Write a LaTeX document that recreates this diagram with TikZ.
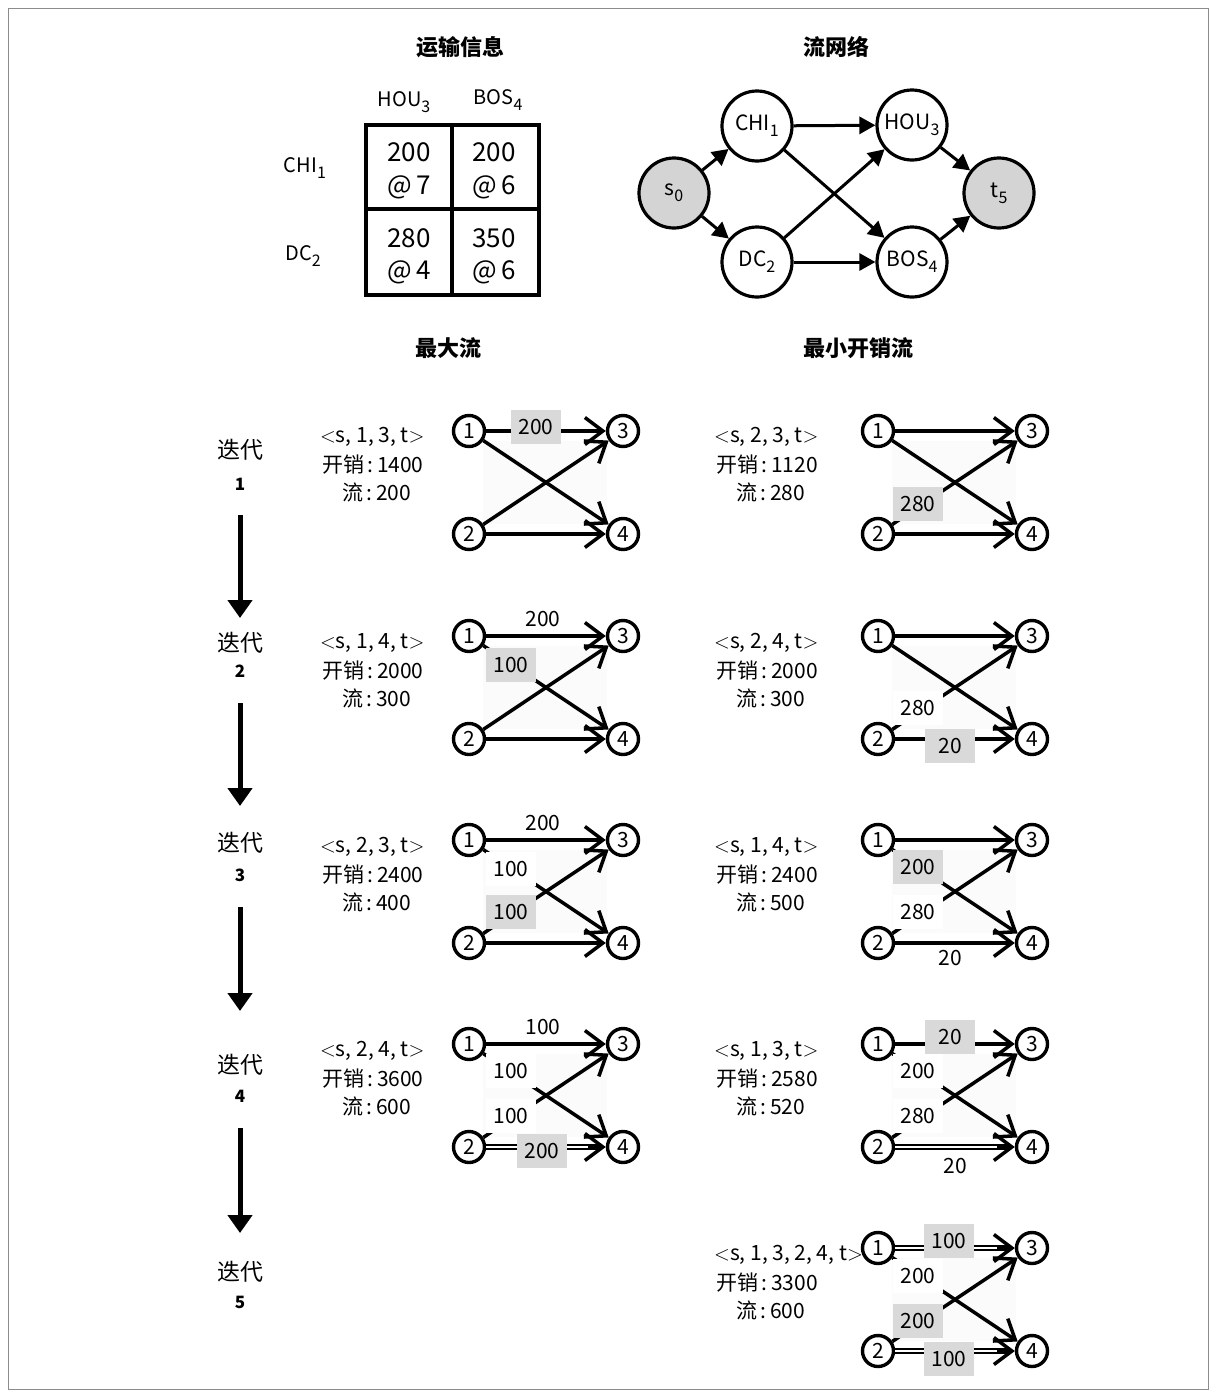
\documentclass[tikz,border=0pt]{standalone}
\usepackage{fontspec}
\setmainfont{Noto Sans CJK SC}
\usetikzlibrary{arrows.meta}
\newcommand\myfs[1]{\fontsize{#1}{#1}\selectfont}
\newcommand\lowsub[1]{\raisebox{-6pt}{\myfs{16}#1}}
\begin{document}
\begin{tikzpicture}[x=1pt,y=-1pt,
  every node/.style={inner sep=0pt, font=\myfs{20}},
  title/.style={font=\myfs{22}\bfseries},
  cell/.style={font=\myfs{26}},
  bign/.style={circle, draw, line width=3.2pt, minimum size=70pt, font=\myfs{21}},
  bigg/.style={bign, fill=black!17},
  fa/.style={line width=3pt, -{Triangle[length=16pt,width=17pt]}},
  iterarrow/.style={line width=5pt, -{Triangle[length=18pt,width=24pt]}},
  pn/.style={circle, draw, line width=3.4pt, minimum size=31pt, fill=white, font=\myfs{21}},
  pe/.style={line width=3.5pt, -{Straight Barb[length=18pt,width=27pt,line width=3.5pt]}},
  pthick/.style={pe, line width=4.5pt},
  lw/.style={fill=white, minimum width=50pt, minimum height=34pt, font=\myfs{21}},
  lg/.style={fill=black!15, minimum width=50pt, minimum height=34pt, font=\myfs{21}},
  lt/.style={font=\myfs{21}},
  ptx/.style={anchor=west, font=\myfs{21}},
  dblin/.style={white, line width=1.8pt, shorten >=18pt}
]
\useasboundingbox (0,0) rectangle (1216,1395);
\draw[black!45, line width=1pt] (8,8) rectangle (1208,1389);

% titles
\node[title] (ttab) at (460,47) {运输信息};
\node[title] (tnet) at (836,47) {流网络};
\node[title] (tmax) at (448,348) {最大流};
\node[title] (tmin) at (858,348) {最小开销流};

% table
\draw[line width=3.4pt] (366,125) rectangle (539,295);
\draw[line width=3.4pt] (452,125) -- (452,295);
\draw[line width=3.4pt] (366,209) -- (539,209);
\node (hhou) at (404,102) {HOU\lowsub{3}};
\node (hbos) at (498,100) {BOS\lowsub{4}};
\node (hchi) at (305,168) {CHI\lowsub{1}};
\node (hdc) at (303,256) {DC\lowsub{2}};
\node[cell] (c11a) at (409,152) {200};
\node[cell] (c11b) at (409,187) {@\,7};
\node[cell] (c12a) at (494,152) {200};
\node[cell] (c12b) at (494,187) {@\,6};
\node[cell] (c21a) at (409,238) {280};
\node[cell] (c21b) at (409,272) {@\,4};
\node[cell] (c22a) at (494,238) {350};
\node[cell] (c22b) at (494,272) {@\,6};

% flow network
\node[bigg] (s0) at (674,193) {s\lowsub{0}};
\node[bign] (chi) at (757,126) {CHI\lowsub{1}};
\node[bign] (dc) at (757,262) {DC\lowsub{2}};
\node[bign] (hou) at (912,125) {HOU\lowsub{3}};
\node[bign] (bos) at (912,262) {BOS\lowsub{4}};
\node[bigg] (t5) at (999,193) {t\lowsub{5}};
\draw[fa] (s0) -- (chi);
\draw[fa] (s0) -- (dc);
\draw[fa] (chi) -- (hou);
\draw[fa] (chi) -- (bos);
\draw[fa] (dc) -- (hou);
\draw[fa] (dc) -- (bos);
\draw[fa] (hou) -- (t5);
\draw[fa] (bos) -- (t5);

% iteration column
\node (it1) at (240,450) {\myfs{23}迭代};
\node (in1) at (240,484) {\bfseries\myfs{17}1};
\node (it2) at (240,643) {\myfs{23}迭代};
\node (in2) at (240,671) {\bfseries\myfs{17}2};
\node (it3) at (240,843) {\myfs{23}迭代};
\node (in3) at (240,875) {\bfseries\myfs{17}3};
\node (it4) at (240,1065) {\myfs{23}迭代};
\node (in4) at (240,1096) {\bfseries\myfs{17}4};
\node (it5) at (240,1272) {\myfs{23}迭代};
\node (in5) at (240,1302) {\bfseries\myfs{17}5};
\coordinate (a1s) at (240,515); \coordinate (a1e) at (240,618);
\coordinate (a2s) at (240,703); \coordinate (a2e) at (240,806);
\coordinate (a3s) at (240,907); \coordinate (a3e) at (240,1011);
\coordinate (a4s) at (240,1128); \coordinate (a4e) at (240,1233);
\draw[iterarrow] (a1s) -- (a1e);
\draw[iterarrow] (a2s) -- (a2e);
\draw[iterarrow] (a3s) -- (a3e);
\draw[iterarrow] (a4s) -- (a4e);

% panel macros
\newcommand\mkpanel[3]{%
  \fill[black!1.5] (#2+14,#3+10) rectangle (#2+138,#3+93);
  \node[pn] (#1n1) at (#2,#3) {1};
  \node[pn] (#1n2) at (#2,#3+103) {2};
  \node[pn] (#1n3) at (#2+154,#3) {3};
  \node[pn] (#1n4) at (#2+154,#3+103) {4};
}
\newcommand\crossedges[1]{%
  \draw[pe] (#1n1) -- (#1n4);
  \draw[pe] (#1n2) -- (#1n3);
}
\newcommand\ptext[6]{%
  \node[ptx] (#1ta) at (#2,#3) {$<$s, #4, t$>$};
  \node[ptx] (#1tb) at (#2+2,#3+28) {开销\,:\,#5};
  \node[ptx] (#1tc) at (#2+22,#3+55) {流\,:\,#6};
}

% ---------- iteration 1
\mkpanel{La}{469}{431}
\draw[pe] (Lan1) -- (Lan3);
\crossedges{La}
\draw[pe] (Lan2) -- (Lan4);
\node[lg] (La1) at (536,427) {200};
\ptext{La}{320}{437}{1, 3}{1400}{200}

\mkpanel{Ra}{878}{431}
\draw[pe] (Ran1) -- (Ran3);
\crossedges{Ra}
\draw[pe] (Ran2) -- (Ran4);
\node[lg] (Ra1) at (918,504) {280};
\ptext{Ra}{714}{437}{2, 3}{1120}{280}

% ---------- iteration 2
\mkpanel{Lb}{469}{636}
\draw[pe] (Lbn1) -- (Lbn3);
\crossedges{Lb}
\draw[pe] (Lbn2) -- (Lbn4);
\node[lt] (Lb1) at (543,619) {200};
\node[lg] (Lb2) at (511,665) {100};
\ptext{Lb}{320}{643}{1, 4}{2000}{300}

\mkpanel{Rb}{878}{636}
\draw[pe] (Rbn1) -- (Rbn3);
\crossedges{Rb}
\draw[pe] (Rbn2) -- (Rbn4);
\node[lw] (Rb1) at (918,708) {280};
\node[lg] (Rb2) at (950,746) {20};
\ptext{Rb}{714}{643}{2, 4}{2000}{300}

% ---------- iteration 3
\mkpanel{Lc}{469}{840}
\draw[pthick] (Lcn1) -- (Lcn3);
\crossedges{Lc}
\draw[pe] (Lcn2) -- (Lcn4);
\node[lt] (Lc1) at (543,823) {200};
\node[lw] (Lc2) at (511,869) {100};
\node[lg] (Lc3) at (511,912) {100};
\ptext{Lc}{320}{847}{2, 3}{2400}{400}

\mkpanel{Rc}{878}{840}
\draw[pthick] (Rcn1) -- (Rcn3);
\crossedges{Rc}
\draw[pthick] (Rcn2) -- (Rcn4);
\node[lg] (Rc1) at (918,867) {200};
\node[lw] (Rc2) at (918,912) {280};
\node[lt] (Rc3) at (950,958) {20};
\ptext{Rc}{714}{847}{1, 4}{2400}{500}

% ---------- iteration 4
\mkpanel{Ld}{469}{1044}
\draw[pthick] (Ldn1) -- (Ldn3);
\crossedges{Ld}
\draw[pe, line width=6pt] (Ldn2) -- (Ldn4);
\draw[dblin] (Ldn2) -- (Ldn4);
\node[lt] (Ld1) at (543,1027) {100};
\node[lw] (Ld2) at (511,1071) {100};
\node[lw] (Ld3) at (511,1116) {100};
\node[lg] (Ld4) at (542,1151) {200};
\ptext{Ld}{320}{1051}{2, 4}{3600}{600}

\mkpanel{Rd}{878}{1044}
\draw[pthick] (Rdn1) -- (Rdn3);
\crossedges{Rd}
\draw[pe, line width=6pt] (Rdn2) -- (Rdn4);
\draw[dblin] (Rdn2) -- (Rdn4);
\node[lg] (Rd1) at (950,1037) {20};
\node[lw] (Rd2) at (918,1071) {200};
\node[lw] (Rd3) at (918,1116) {280};
\node[lt] (Rd4) at (955,1166) {20};
\ptext{Rd}{714}{1051}{1, 3}{2580}{520}

% ---------- iteration 5
\mkpanel{Re}{878}{1248}
\draw[pe, line width=6pt] (Ren1) -- (Ren3);
\draw[dblin] (Ren1) -- (Ren3);
\crossedges{Re}
\draw[pe, line width=6pt] (Ren2) -- (Ren4);
\draw[dblin] (Ren2) -- (Ren4);
\node[lg] (Re1) at (949,1241) {100};
\node[lw] (Re2) at (918,1276) {200};
\node[lg] (Re3) at (918,1321) {200};
\node[lg] (Re4) at (949,1359) {100};
\ptext{Re}{714}{1255}{1, 3, 2, 4}{3300}{600}
\end{tikzpicture}
\end{document}
